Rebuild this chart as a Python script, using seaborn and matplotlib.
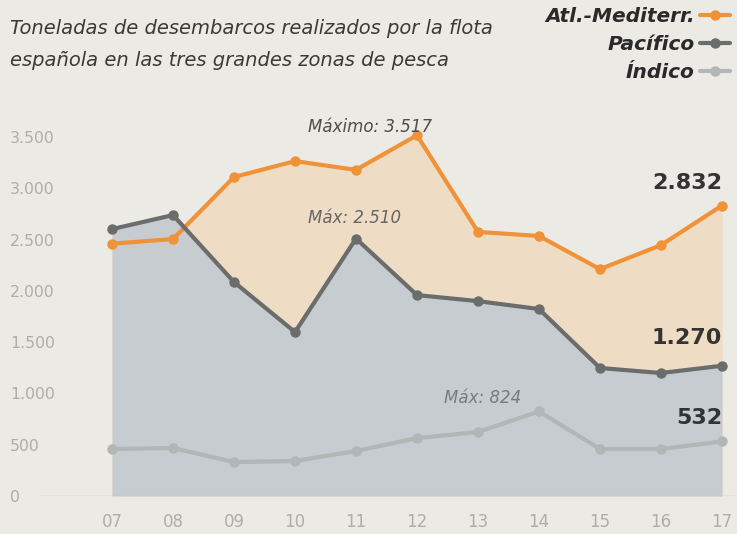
import matplotlib
matplotlib.use("Agg")
import matplotlib.pyplot as plt
import seaborn as sns
import pandas as pd

# Data
years = [7, 8, 9, 10, 11, 12, 13, 14, 15, 16, 17]
year_labels = ["07", "08", "09", "10", "11", "12", "13", "14", "15", "16", "17"]
atl_med = [2460, 2505, 3110, 3265, 3180, 3517, 2575, 2535, 2212, 2446, 2832]
pacifico = [2602, 2739, 2086, 1598, 2510, 1959, 1900, 1823, 1248, 1199, 1270]
indico = [458, 468, 331, 341, 439, 565, 624, 824, 458, 458, 532]
y_ticks = [0, 500, 1000, 1500, 2000, 2500, 3000, 3500]
y_tick_labels = ["0", "500", "1.000", "1.500", "2.000", "2.500", "3.000", "3.500"]

BG = "#ebeae5"
ORANGE = "#ef9238"
DARK = "#6a6d6c"
LIGHT = "#b2b6b7"

df = pd.DataFrame({"year": years, "Atl.-Mediterr.": atl_med,
                   "Pacífico": pacifico, "Índico": indico})

sns.set_theme(style="white")
plt.rcParams["font.family"] = ["DejaVu Sans"]

fig = plt.figure(figsize=(7.37, 5.34), dpi=100, facecolor=BG)
ax = fig.add_axes([10 / 737, 38 / 534, 727 / 737, 396 / 534])
ax.set_facecolor(BG)

# area fills
ax.fill_between(df["year"], df["Atl.-Mediterr."], 0, color="#efdcc4", lw=0, zorder=1)
ax.fill_between(df["year"], df["Pacífico"], 0, color="#c7ccd0", lw=0, zorder=2)

series = [("Atl.-Mediterr.", ORANGE), ("Pacífico", DARK), ("Índico", LIGHT)]
for name, col in series:
    sns.lineplot(data=df, x="year", y=name, ax=ax, color=col, lw=3.0,
                 marker="o", markersize=7.5, markeredgewidth=0,
                 label=name, zorder=4)

ax.axhline(0, xmin=30 / 727, xmax=1, color="#c4c4c0", lw=1, zorder=3)

ax.set_xlim(7 - 102 / 61, 17 + 15 / 61)
ax.set_ylim(0, 3861)
ax.set_xticks(years)
ax.set_xticklabels(year_labels)
ax.set_yticks(y_ticks)
ax.set_yticklabels(y_tick_labels)
ax.set_xlabel("")
ax.set_ylabel("")
for s in ax.spines.values():
    s.set_visible(False)
ax.tick_params(axis="x", length=0, pad=12, labelsize=12, labelcolor="#adaeaa")
ax.tick_params(axis="y", length=0, pad=0, labelsize=11.3, labelcolor="#adaeaa")
for t in ax.get_yticklabels():
    t.set_horizontalalignment("left")

# annotations
ax.text(11.23, 3600, "Máximo: 3.517", ha="center", va="center", style="italic",
        fontsize=12, color="#4d4d4d", zorder=5)
ax.text(10.98, 2710, "Máx: 2.510", ha="center", va="center", style="italic",
        fontsize=12, color="#666666", zorder=5)
ax.text(13.07, 955, "Máx: 824", ha="center", va="center", style="italic",
        fontsize=12, color="#7a7a7a", zorder=5)
for val, ypos in [("2.832", 3050), ("1.270", 1545), ("532", 760)]:
    ax.text(17.0, ypos, val, ha="right", va="center", fontweight="bold",
            fontsize=16, color="#333333", zorder=5)

# title
fig.text(10 / 737, 1 - 29 / 534, "Toneladas de desembarcos realizados por la flota",
         ha="left", va="center", style="italic", fontsize=14, color="#3a3a3a")
fig.text(10 / 737, 1 - 61 / 534, "española en las tres grandes zonas de pesca",
         ha="left", va="center", style="italic", fontsize=14, color="#3a3a3a")

# legend (text then marker, right aligned)
leg = ax.legend(loc="upper right", bbox_to_anchor=(1.0, 1.0),
                bbox_transform=fig.transFigure, markerfirst=False,
                frameon=False, handlelength=1.5, handletextpad=0.25,
                labelspacing=0.45, borderaxespad=0.05, borderpad=0.3,
                prop={"weight": "bold", "style": "italic", "size": 14.5})
for t in leg.get_texts():
    t.set_color("#2a2a2a")

fig.savefig("out.png", dpi=100, facecolor=BG)
